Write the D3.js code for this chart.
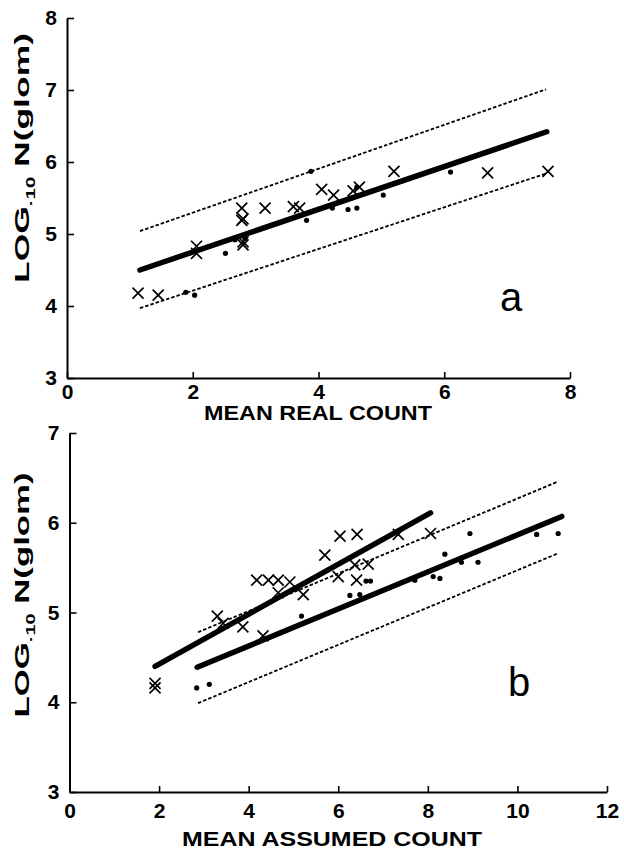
<!DOCTYPE html>
<html><head><meta charset="utf-8">
<script src="https://cdn.jsdelivr.net/npm/d3@7"></script>
<style>
body{margin:0;background:#fff;}
svg{display:block;}
text{font-family:"Liberation Sans",Arial,sans-serif;}
</style></head>
<body>
<script>
// ---------- Panel a data ----------
const aXTicks = [0,2,4,6,8];
const aYTicks = [3,4,5,6,7,8];
const aCrosses = [[1.13,4.18],[1.45,4.15],[2.06,4.83],[2.06,4.73],[2.78,5.36],[2.78,5.19],[2.80,5.21],[2.80,4.89],[2.80,4.85],[3.15,5.36],[3.60,5.38],[3.70,5.36],[4.05,5.62],[4.24,5.54],[4.55,5.60],[4.65,5.65],[5.20,5.87],[6.69,5.85],[7.65,5.87]];
const aDots = [[1.89,4.19],[2.03,4.15],[2.52,4.73],[2.67,4.92],[2.83,4.94],[3.81,5.19],[3.88,5.87],[4.22,5.36],[4.47,5.34],[4.61,5.36],[4.61,5.65],[5.03,5.54],[6.10,5.86]];
const aFit = [[1.16,4.50],[7.63,6.42]];
const aUpper = [[1.16,5.04],[7.62,7.01]];
const aLower = [[1.16,3.97],[7.62,5.84]];

// ---------- Panel b data ----------
const bXTicks = [0,2,4,6,8,10,12];
const bYTicks = [3,4,5,6,7];
const bCrosses = [[1.91,4.21],[1.91,4.16],[3.30,4.96],[3.43,4.88],[3.87,4.84],[4.18,5.36],[4.44,5.36],[4.66,5.36],[4.92,5.34],[4.66,5.22],[5.22,5.20],[4.32,4.74],[5.70,5.64],[6.04,5.85],[6.42,5.87],[6.00,5.40],[6.41,5.36],[6.37,5.53],[6.67,5.54],[7.34,5.87],[8.06,5.88]];
const bDots = [[2.84,4.16],[3.12,4.20],[5.18,4.96],[6.26,5.19],[6.48,5.20],[6.62,5.35],[6.72,5.35],[7.71,5.36],[8.12,5.40],[8.27,5.38],[8.38,5.65],[8.75,5.56],[9.12,5.56],[8.94,5.88],[10.43,5.87],[10.91,5.88]];
const bFit1 = [[1.91,4.40],[8.06,6.11]];
const bFit2 = [[2.85,4.39],[10.99,6.07]];
const bUpper = [[2.87,4.78],[10.91,6.46]];
const bLower = [[2.87,3.99],[10.91,5.66]];

const svg = d3.select("body").append("svg").attr("width",624).attr("height",850);

function panel(cfg){
  const x = d3.scaleLinear().domain(cfg.xd).range(cfg.xr);
  const y = d3.scaleLinear().domain(cfg.yd).range(cfg.yr);
  const g = svg.append("g");
  const fmt = d3.format("d");
  const ax = g.append("g").attr("transform",`translate(0,${cfg.yr[0]})`)
    .call(d3.axisBottom(x).tickValues(cfg.xt).tickFormat(fmt).tickSizeInner(-6).tickSizeOuter(0).tickPadding(cfg.xPad));
  const ay = g.append("g").attr("transform",`translate(${cfg.xr[0]},0)`)
    .call(d3.axisLeft(y).tickValues(cfg.yt).tickFormat(fmt).tickSizeInner(-7).tickSizeOuter(0).tickPadding(10));
  [ax,ay].forEach(a=>{
    a.select(".domain").attr("stroke","#000").attr("stroke-width",2);
    a.selectAll(".tick line").attr("stroke","#000").attr("stroke-width",1.6);
    a.selectAll("text").attr("font-size",21).attr("font-weight","bold").attr("fill","#000")
      .attr("font-family","'Liberation Sans',Arial,sans-serif");
  });
  const line = d3.line().x(d=>x(d[0])).y(d=>y(d[1]));
  cfg.dashed.forEach(l=>g.append("path").attr("d",line(l)).attr("fill","none")
    .attr("stroke","#000").attr("stroke-width",1.8).attr("stroke-dasharray","3.5,2"));
  cfg.fits.forEach(l=>g.append("path").attr("d",line(l)).attr("fill","none")
    .attr("stroke","#000").attr("stroke-width",5.5).attr("stroke-linecap","round"));
  g.selectAll(null).data(cfg.dots).enter().append("circle")
    .attr("cx",d=>x(d[0])).attr("cy",d=>y(d[1])).attr("r",2.6).attr("fill","#000");
  const s = 5.5;
  g.selectAll(null).data(cfg.crosses).enter().append("path")
    .attr("d",d=>{const cx=x(d[0]),cy=y(d[1]);return `M${cx-s},${cy-s}L${cx+s},${cy+s}M${cx-s},${cy+s}L${cx+s},${cy-s}`;})
    .attr("stroke","#000").attr("stroke-width",1.7).attr("fill","none");
  g.append("text").attr("x",cfg.xTitle[0]).attr("y",cfg.xTitle[1]).attr("text-anchor","middle")
    .attr("font-size",20).attr("font-weight","bold")
    .attr("textLength",cfg.xTitle[2]).attr("lengthAdjust","spacingAndGlyphs").text(cfg.xLabel);
  const yt = g.append("text").attr("transform",`translate(${cfg.yTitle[0]},${cfg.yTitle[1]}) rotate(-90)`)
    .attr("text-anchor","middle").attr("font-size",21).attr("font-weight","bold")
    .attr("textLength",cfg.yTitle[2]).attr("lengthAdjust","spacingAndGlyphs");
  yt.append("tspan").text("LOG");
  yt.append("tspan").attr("font-size",12).attr("dy",6).text("·10");
  yt.append("tspan").attr("dy",-6).text(" N(glom)");
  g.append("text").attr("x",cfg.letter[0]).attr("y",cfg.letter[1]).attr("font-size",40)
    .attr("font-family","'Liberation Sans',Arial,sans-serif").text(cfg.letterText);
}

panel({xd:[0,8],xr:[67,570],yd:[3,8],yr:[378,18],xt:aXTicks,yt:aYTicks,xPad:6,
  crosses:aCrosses,dots:aDots,fits:[aFit],dashed:[aUpper,aLower],
  xLabel:"MEAN REAL COUNT",xTitle:[318,420,228],yTitle:[29,158,250],letter:[500,311],letterText:"a"});
panel({xd:[0,12],xr:[69.5,607],yd:[3,7],yr:[792,433],xt:bXTicks,yt:bYTicks,xPad:11,
  crosses:bCrosses,dots:bDots,fits:[bFit1,bFit2],dashed:[bUpper,bLower],
  xLabel:"MEAN ASSUMED COUNT",xTitle:[332,846,300],yTitle:[29,595,245],letter:[508,696],letterText:"b"});
</script>
</body></html>
